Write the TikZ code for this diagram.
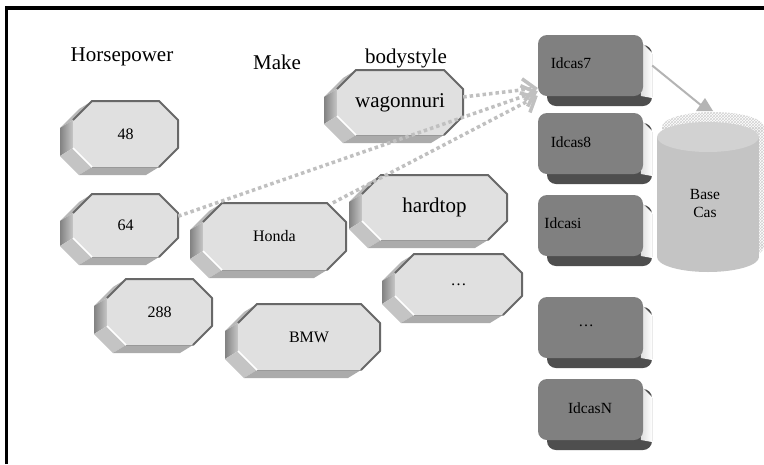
\documentclass[tikz,border=0pt]{standalone}
\usepackage{fontspec}
\setmainfont{Liberation Serif}
\usetikzlibrary{arrows.meta,patterns,calc}

\definecolor{faceL}{HTML}{E0E0E0}
\definecolor{edgeD}{HTML}{686868}
\definecolor{sideA}{HTML}{A2A2A2}
\definecolor{sideB}{HTML}{C4C4C4}
\definecolor{sideC}{HTML}{ABABAB}
\definecolor{sideT}{HTML}{B8B8B8}
\definecolor{boxF}{HTML}{808080}
\definecolor{boxD}{HTML}{4E4E4E}
\definecolor{boxL}{HTML}{D6D6D6}
\definecolor{linkG}{HTML}{C0C0C0}
\definecolor{arrG}{HTML}{B4B4B4}
\definecolor{cylB}{HTML}{C4C4C4}
\definecolor{cylT}{HTML}{D2D2D2}

\tikzset{
  octlabel/.style={inner sep=0pt, font=\fontsize{16}{19}\selectfont},
  biglabel/.style={octlabel, font=\fontsize{21}{25}\selectfont},
  hdr/.style={inner sep=0pt, font=\fontsize{21}{25}\selectfont},
  boxlabel/.style={inner sep=0pt, font=\fontsize{15.5}{18}\selectfont},
  link/.style={draw=linkG, line width=3.5pt, dash pattern=on 3.5pt off 3pt,
    -{Straight Barb[length=12pt,width=22pt]}},
  dbarrow/.style={draw=arrG, line width=2pt},
  hatch/.style={pattern=crosshatch, pattern color=gray!35},
}

% 3D octagon: name, centre x, centre y, half width, half height, style, text
\newcommand\octo[7]{%
  \begin{scope}[shift={(#2,#3)}]
    \def\oA{#4}\def\oB{#5}\def\oC{19}%
    \coordinate (p1) at ({-\oA+\oC},{-\oB});
    \coordinate (p2) at ({\oA-\oC},{-\oB});
    \coordinate (p3) at ({\oA},{-\oB+\oC});
    \coordinate (p4) at ({\oA},{\oB-\oC});
    \coordinate (p5) at ({\oA-\oC},{\oB});
    \coordinate (p6) at ({-\oA+\oC},{\oB});
    \coordinate (p7) at ({-\oA},{\oB-\oC});
    \coordinate (p8) at ({-\oA},{-\oB+\oC});
    \foreach \i in {1,...,8}{\coordinate (q\i) at ($(p\i)+(-13,8)$);}
    \fill[sideT] (p1)--(p8)--(q8)--(q1)--cycle;
    \shade[left color=sideA!80!black, right color=sideA!60!white] (p8)--(p7)--(q7)--(q8)--cycle;
    \fill[sideB] (p7)--(p6)--(q6)--(q7)--cycle;
    \fill[sideC] (p6)--(p5)--(q5)--(q6)--cycle;
    \fill[faceL] (p1)--(p2)--(p3)--(p4)--(p5)--(p6)--(p7)--(p8)--cycle;
    \draw[white, line width=1.6pt] (p7)--(p6);
    \draw[gray!80, line width=0.8pt] (p5)--(p6);
    \draw[edgeD, line width=2pt, line join=round] (p8)--(p1)--(p2)--(p3)--(p4)--(p5);
  \end{scope}
  \node[#6, minimum width=2*#4, minimum height=2*#5] (#1) at (#2,#3) {#7};
}

% dark 3D box: name, left, top
\newcommand\dbox[3]{%
  \fill[boxD, rounded corners=9pt] (#2+9,#3+10) rectangle ++(105,61);
  \shade[left color=boxL, right color=white] (#2+100,#3+4) -- (#2+114,#3+18) -- (#2+114,#3+63) -- (#2+103,#3+61) -- cycle;
  \fill[boxF, rounded corners=9pt] (#2,#3) rectangle ++(105,61);
  \node[inner sep=0pt, minimum width=114, minimum height=71] (#1) at (#2+57,#3+35.5) {};
}

\begin{document}
\begin{tikzpicture}[x=1pt, y=-1pt]
  \useasboundingbox (0,0) rectangle (764,464);
  \fill[white] (0,0) rectangle (764,464);

  % frame
  \draw[line width=3.8pt] (6.5,464) -- (6.5,8) -- (764,8);

  % column headers
  \node[hdr] (hp)   at (122,57) {Horsepower};
  \node[hdr] (make) at (277,62) {Make};
  \node[hdr] (body) at (406,58) {bodystyle};

  % value octagons
  \octo{n48}{125.5}{134}{52.5}{33}{octlabel}{48}
  \octo{n64}{125.5}{225.5}{52.5}{31.5}{octlabel}{64}
  \octo{n288}{159.5}{312}{52.5}{33}{octlabel}{288}
  \octo{honda}{274.5}{236.5}{71.5}{33.5}{octlabel}{Honda}
  \octo{bmw}{309}{337}{71}{33}{octlabel}{BMW}
  \octo{wag}{400}{102.5}{63}{32.5}{biglabel}{wagonnuri}
  \octo{hard}{434.5}{207.5}{72.5}{32.5}{biglabel}{hardtop}
  \octo{more}{458.5}{284.5}{63.5}{30.5}{octlabel}{\dots}

  % case boxes
  \dbox{idc7}{538}{35}
  \dbox{idc8}{538}{113}
  \dbox{idci}{538}{195}
  \dbox{idcd}{538}{297}
  \dbox{idcn}{538}{379}
  \node[boxlabel] (t7) at (571,63) {Idcas7};
  \node[boxlabel] (t8) at (571,142) {Idcas8};
  \node[boxlabel] (ti) at (563,223) {Idcasi};
  \node[boxlabel] (td) at (586,326) {\dots};
  \node[boxlabel] (tn) at (590,408) {IdcasN};

  % case base cylinder (hatched back, then body)
  \begin{scope}[shift={(5,-10)}]
    \fill[white] (708,257) ellipse [x radius=51, y radius=15];
    \fill[white] (657,137) rectangle (759,257);
    \fill[white] (708,137) ellipse [x radius=51, y radius=15];
    \fill[hatch] (708,257) ellipse [x radius=51, y radius=15];
    \fill[hatch] (657,137) rectangle (759,257);
    \fill[hatch] (708,137) ellipse [x radius=51, y radius=15];
  \end{scope}
  \fill[cylB] (708,257) ellipse [x radius=51, y radius=15];
  \fill[cylB] (657,137) rectangle (759,257);
  \fill[cylT] (708,137) ellipse [x radius=51, y radius=15];
  \node[boxlabel, align=center] (db) at (705,203) {Base\\Cas};
  \coordinate (dbtop) at (702,106);

  % links into the first case
  \draw[link] (n64.10) -- (idc7.200);
  \draw[link] (wag.5) -- (idc7.197);
  \draw[link] (honda.30) -- (idc7.204);

  % case to base
  \draw[dbarrow] ([yshift=5pt]idc7.east) -- (dbtop);
  \fill[arrG] (705,98) -- (713,111) -- (696,111) -- cycle;
\end{tikzpicture}
\end{document}
